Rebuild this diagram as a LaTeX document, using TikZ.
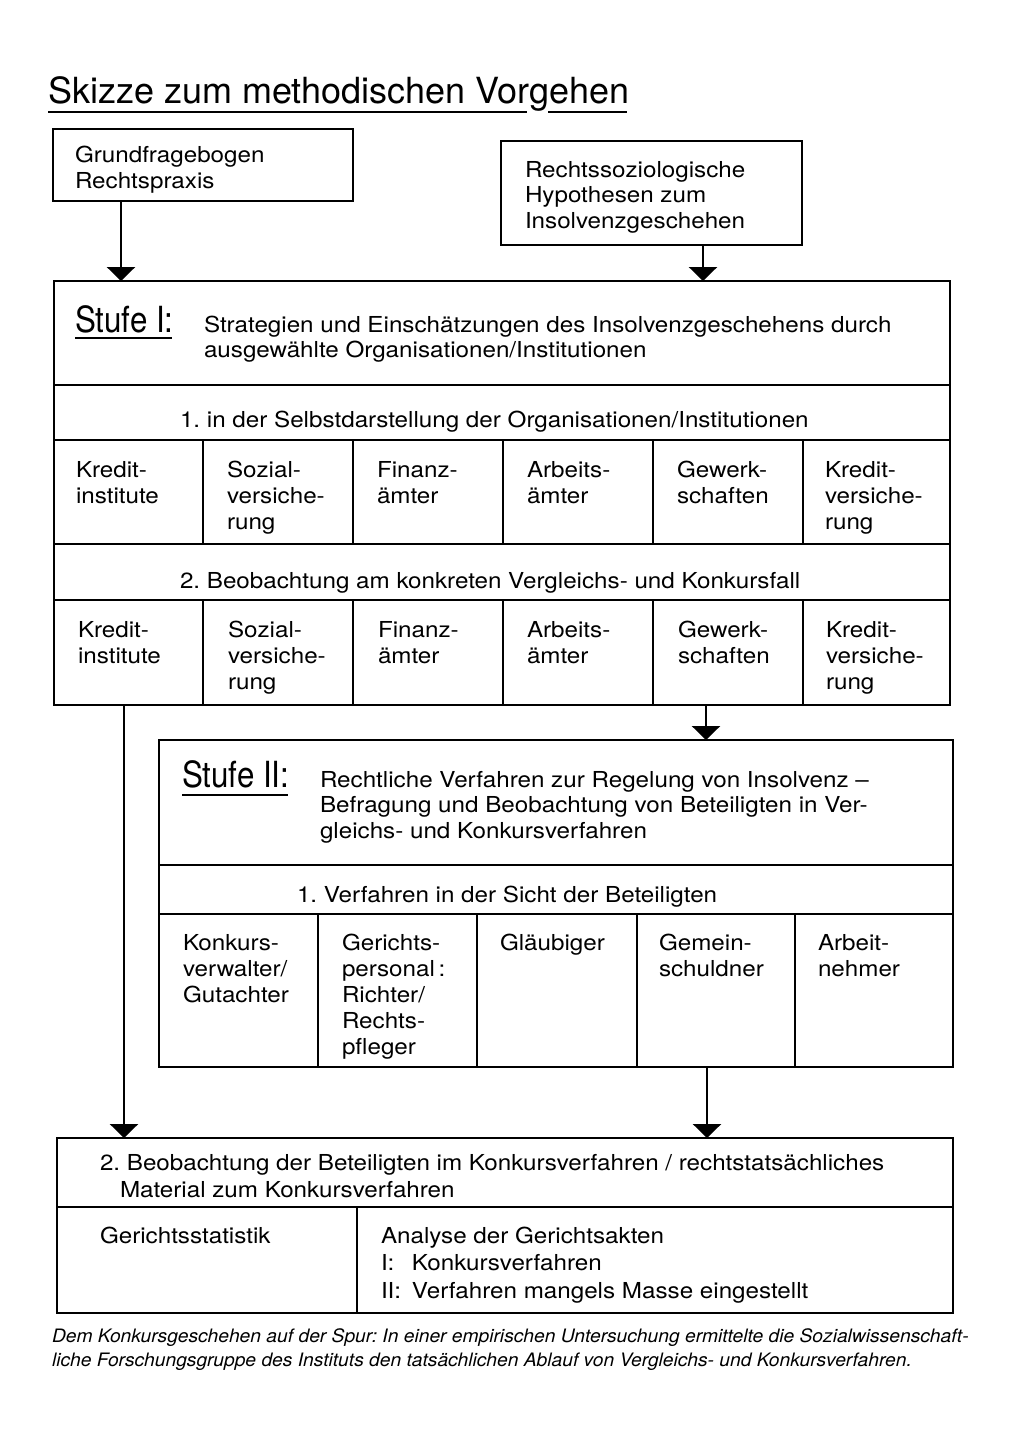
\documentclass[tikz,border=0pt]{standalone}
\usepackage{fontspec}
\setmainfont{TeX Gyre Heros}
\newfontfamily\bodyf{TeX Gyre Heros}[FakeStretch=1.1]
\newfontfamily\stuff{TeX Gyre Heros}[FakeStretch=0.87]
\newfontfamily\capf{TeX Gyre Heros}[FakeStretch=1.04]
\usetikzlibrary{arrows.meta}
\frenchspacing
\newcommand\ml[2][26pt]{\vtop{\baselineskip=#1\lineskiplimit=-100pt\lineskip=0pt\halign{##\hfil\cr#2\crcr}}}
\tikzset{
  box/.style={draw, line width=2.6pt, inner sep=0pt, outer sep=0pt, anchor=north west},
  txt/.style={anchor=base west, inner sep=0pt, outer sep=0pt, font=\bodyf\frenchspacing\fontsize{22}{26}\selectfont},
  stufe/.style={anchor=base west, inner sep=0pt, outer sep=0pt, font=\stuff\fontsize{36}{40}\selectfont},
  titl/.style={anchor=base west, inner sep=0pt, outer sep=0pt, font=\fontsize{36}{40}\selectfont},
  capt/.style={anchor=base west, inner sep=0pt, outer sep=0pt, font=\capf\itshape\frenchspacing\fontsize{18.5}{24}\selectfont},
  arr/.style={line width=2.6pt, -{Triangle[width=28pt,length=14pt]}},
  gridl/.style={line width=2.6pt},
  uline/.style={line width=1.8pt}
}
\begin{document}
\begin{tikzpicture}[x=1pt,y=-1pt]
\fill[white] (0,0) rectangle (1019,1446);
\useasboundingbox (0,0) rectangle (1019,1446);

% title
\node[titl] (title) at (48,103) {Skizze zum methodischen Vorgehen};
\draw[uline] (48,112) -- (527,112);
\draw[uline] (548,112) -- (627,112);

% top boxes
\node[box, minimum width=300pt, minimum height=72pt] (A) at (53,129) {};
\node[txt] (At) at (75,162) {\ml{Grundfragebogen\cr Rechtspraxis}};
\node[box, minimum width=301pt, minimum height=104pt] (B) at (501,141) {};
\node[txt] (Bt) at (525,177) {\ml[25.5pt]{Rechtssoziologische\cr Hypothesen zum\cr Insolvenzgeschehen}};

% Stufe I
\node[box, minimum width=896pt, minimum height=424pt] (S1) at (54,281) {};
\node[stufe] (S1l) at (75,332) {Stufe I:};
\draw[uline] (75,338) -- (172,338);
\node[txt] (S1t) at (204,332) {\ml[25pt]{Strategien und Einschätzungen des Insolvenzgeschehens durch\cr ausgewählte Organisationen/Institutionen}};
\draw[gridl] (S1.west |- 0,385) -- (S1.east |- 0,385);
\draw[gridl] (S1.west |- 0,440) -- (S1.east |- 0,440);
\draw[gridl] (S1.west |- 0,544) -- (S1.east |- 0,544);
\draw[gridl] (S1.west |- 0,600) -- (S1.east |- 0,600);
\node[txt] (S1r1) at (180,427) {1. in der Selbstdarstellung der Organisationen/Institutionen};
\node[txt] (S1r2) at (180,588) {2. Beobachtung am konkreten Vergleichs- und Konkursfall};
\foreach \x in {203,353,503,653,803}{
  \draw[gridl] (\x,440) -- (\x,544);
  \draw[gridl] (\x,600) -- (\x,705);
}
\node[txt] (c11) at (76,477) {\ml{Kredit-\cr institute}};
\node[txt] (c12) at (227,477) {\ml{Sozial-\cr versiche-\cr rung}};
\node[txt] (c13) at (377,477) {\ml{Finanz-\cr ämter}};
\node[txt] (c14) at (527,477) {\ml{Arbeits-\cr ämter}};
\node[txt] (c15) at (677,477) {\ml{Gewerk-\cr schaften}};
\node[txt] (c16) at (825,477) {\ml{Kredit-\cr versiche-\cr rung}};
\node[txt] (c21) at (78,637) {\ml{Kredit-\cr institute}};
\node[txt] (c22) at (228,637) {\ml{Sozial-\cr versiche-\cr rung}};
\node[txt] (c23) at (378,637) {\ml{Finanz-\cr ämter}};
\node[txt] (c24) at (527,637) {\ml{Arbeits-\cr ämter}};
\node[txt] (c25) at (678,637) {\ml{Gewerk-\cr schaften}};
\node[txt] (c26) at (826,637) {\ml{Kredit-\cr versiche-\cr rung}};

% Stufe II
\node[box, minimum width=794pt, minimum height=327pt] (S2) at (159,740) {};
\node[stufe] (S2l) at (182,787) {Stufe II:};
\draw[uline] (182,795) -- (288,795);
\node[txt] (S2t) at (320,787) {\ml[25.5pt]{Rechtliche Verfahren zur Regelung von Insolvenz –\cr Befragung und Beobachtung von Beteiligten in Ver-\cr gleichs- und Konkursverfahren}};
\draw[gridl] (S2.west |- 0,865) -- (S2.east |- 0,865);
\draw[gridl] (S2.west |- 0,914) -- (S2.east |- 0,914);
\node[txt] (S2r1) at (297,902) {1. Verfahren in der Sicht der Beteiligten};
\foreach \x in {318,477,637,795}{
  \draw[gridl] (\x,914) -- (\x,1067);
}
\node[txt] (d1) at (183,950) {\ml{Konkurs-\cr verwalter/\cr Gutachter}};
\node[txt] (d2) at (342,950) {\ml{Gerichts-\cr personal\,:\cr Richter/\cr Rechts-\cr pfleger}};
\node[txt] (d3) at (500,950) {Gläubiger};
\node[txt] (d4) at (659,950) {\ml{Gemein-\cr schuldner}};
\node[txt] (d5) at (818,950) {\ml{Arbeit-\cr nehmer}};

% bottom box
\node[box, minimum width=896pt, minimum height=175pt] (C) at (57,1138) {};
\draw[gridl] (C.west |- 0,1207) -- (C.east |- 0,1207);
\draw[gridl] (357,1207) -- (C.south -| 357,0);
\node[txt] (Ct) at (100,1170) {\ml[27pt]{2. Beobachtung der Beteiligten im Konkursverfahren / rechtstatsächliches\cr \hskip20pt Material zum Konkursverfahren}};
\node[txt] (Cl) at (100,1243) {Gerichtsstatistik};
\node[txt] (Cr) at (381,1243) {\ml[27.5pt]{Analyse der Gerichtsakten\cr \hbox to 31pt{I:\hfil}Konkursverfahren\cr \hbox to 31pt{II:\hfil}Verfahren mangels Masse eingestellt}};

% arrows
\coordinate (a1) at (121,0);
\coordinate (a2) at (703,0);
\coordinate (a3) at (706,0);
\coordinate (a4) at (124,0);
\coordinate (a5) at (707,0);
\draw[arr] (A.south -| a1) -- (S1.north -| a1);
\draw[arr] (B.south -| a2) -- (S1.north -| a2);
\draw[arr] (S1.south -| a3) -- (S2.north -| a3);
\draw[arr] (S1.south -| a4) -- (C.north -| a4);
\draw[arr] (S2.south -| a5) -- (C.north -| a5);

% caption
\node[capt] (cap) at (52,1342) {\ml[24pt]{Dem Konkursgeschehen auf der Spur: In einer empirischen Untersuchung ermittelte die Sozialwissenschaft-\cr liche Forschungsgruppe des Instituts den tatsächlichen Ablauf von Vergleichs- und Konkursverfahren.}};
\end{tikzpicture}
\end{document}
